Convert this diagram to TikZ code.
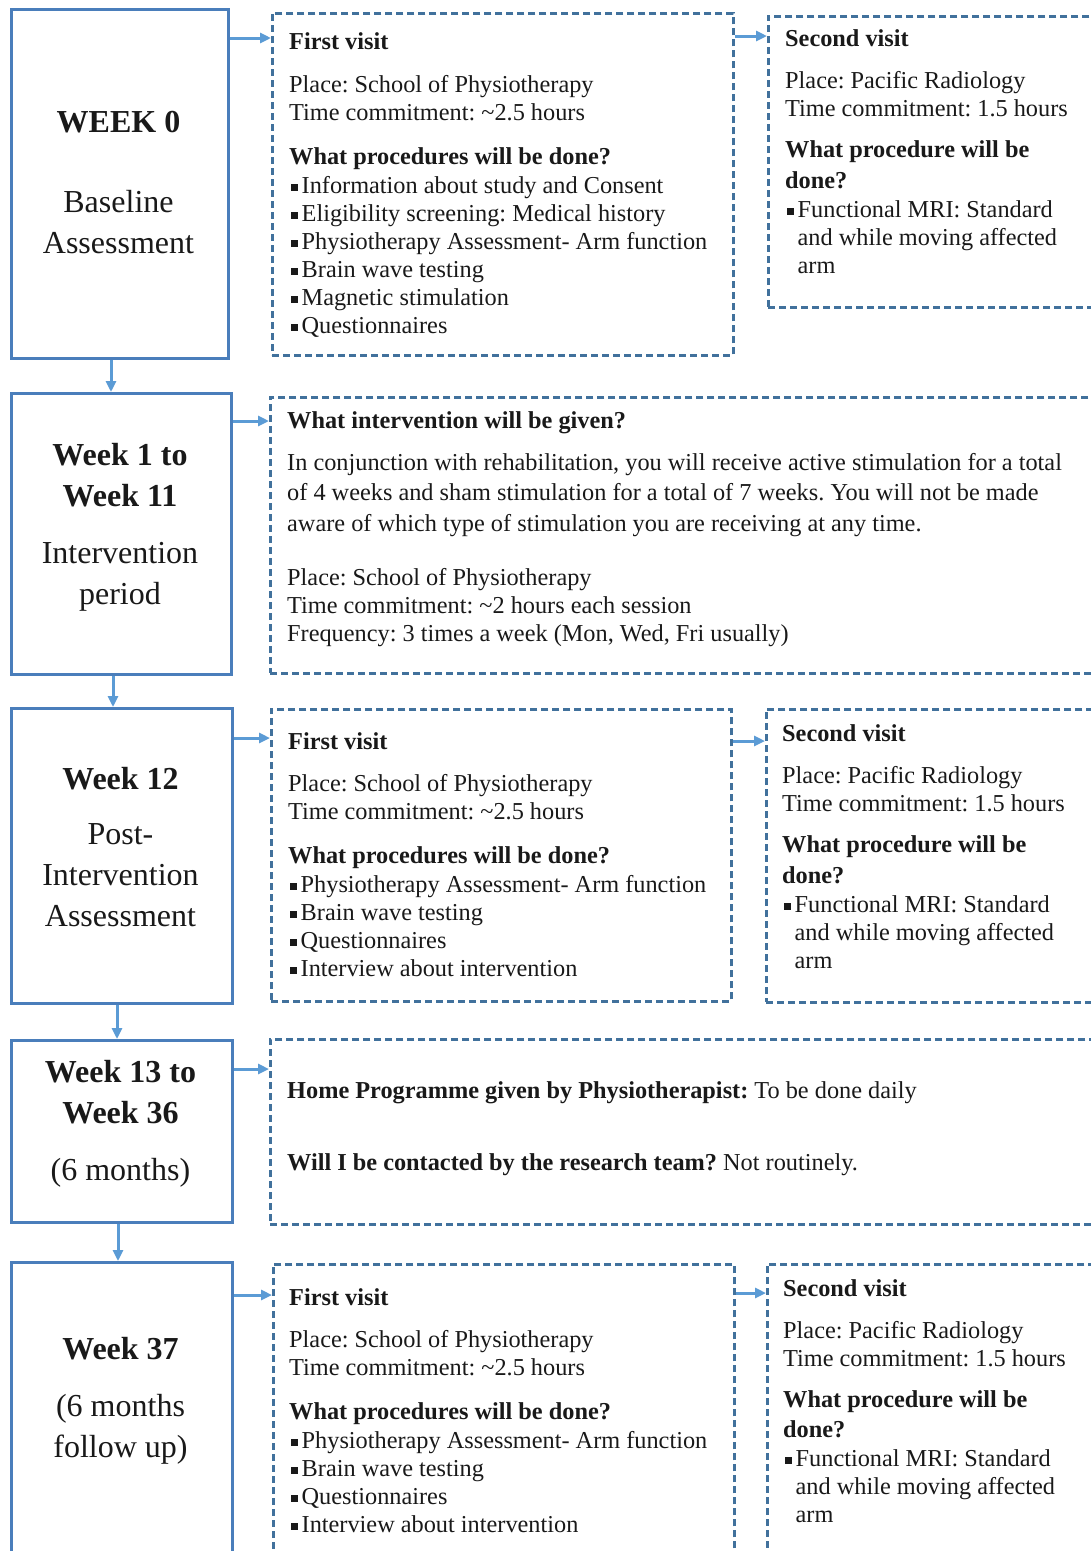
\documentclass[tikz,border=0pt]{standalone}
\usepackage{fontspec}
\setmainfont{Liberation Serif}
\usetikzlibrary{arrows.meta}
\definecolor{boxblue}{RGB}{74,126,187}
\definecolor{arrowblue}{RGB}{91,155,213}
\definecolor{dashblue}{RGB}{65,113,156}
\newcommand{\sq}{\hspace{2pt}\raisebox{2.5pt}{\rule{6.5pt}{6.5pt}}\hspace{4pt}}
\newcommand{\sqgap}{\hspace{12.5pt}}
\frenchspacing

\begin{document}
\begin{tikzpicture}[x=1pt, y=-1pt, >={Triangle[length=11pt,width=10pt]},
  weekbox/.style={draw=boxblue, line width=3pt, anchor=north west, inner sep=0pt},
  visitbox/.style={draw=dashblue, line width=2.5pt, dash pattern=on 7pt off 4pt, anchor=north west, inner sep=0pt},
  weeklabel/.style={align=center, font=\fontsize{32}{41}\selectfont, text=black!90},
  body/.style={align=left, anchor=north west, inner sep=0pt, font=\fontsize{24.3}{28}\selectfont, text=black!90},
  flow/.style={->, draw=arrowblue, line width=3pt}]
  \useasboundingbox (0,0) rectangle (1091,1551);
  \fill[white] (0,0) rectangle (1091,1551);
  \clip (0,0) rectangle (1091,1551);
  % Week boxes
  \node[weekbox, minimum width=217, minimum height=349] (w0) at (10,8) {};
  \node[weekbox, minimum width=220, minimum height=281] (w1) at (10,392) {};
  \node[weekbox, minimum width=221, minimum height=295] (w2) at (10,707) {};
  \node[weekbox, minimum width=221, minimum height=182] (w3) at (10,1039) {};
  \node[weekbox, minimum width=221, minimum height=340] (w4) at (10,1261) {};
  \node[weeklabel] (w0l) at (118.5,182.5) {\textbf{WEEK 0}\\[39pt]Baseline\\Assessment};
  \node[weeklabel] (w1l) at (120,527) {\textbf{Week 1 to}\\\textbf{Week 11}\\[16pt]Intervention\\period};
  \node[weeklabel] (w2l) at (120.5,847.5) {\textbf{Week 12}\\[14pt]Post-\\Intervention\\Assessment};
  \node[weeklabel] (w3l) at (120.5,1124) {\textbf{Week 13 to}\\\textbf{Week 36}\\[16pt](6 months)};
  \node[weeklabel] (w4l) at (120.5,1401) {\textbf{Week 37}\\[16pt](6 months\\follow up)};
  % Visit boxes
  \node[visitbox, minimum width=461, minimum height=342] (v1a) at (271,12) {};
  \node[visitbox, minimum width=345, minimum height=291] (v1b) at (767,15) {};
  \node[visitbox, minimum width=843, minimum height=276] (v2) at (269,396) {};
  \node[visitbox, minimum width=460, minimum height=292] (v3a) at (270,708) {};
  \node[visitbox, minimum width=347, minimum height=293] (v3b) at (765,708) {};
  \node[visitbox, minimum width=843, minimum height=185] (v4) at (269,1038) {};
  \node[visitbox, minimum width=461, minimum height=340] (v5a) at (272,1263) {};
  \node[visitbox, minimum width=346, minimum height=340] (v5b) at (766,1263) {};
  % Texts
  \node[body] (t1a) at (289,32) {\textbf{First visit}\\[15pt]
    Place: School of Physiotherapy\\
    Time commitment: \textasciitilde2.5 hours\\[16pt]
    \textbf{What procedures will be done?}\\[1pt]
    \sq Information about study and Consent\\
    \sq Eligibility screening: Medical history\\
    \sq Physiotherapy Assessment- Arm function\\
    \sq Brain wave testing\\
    \sq Magnetic stimulation\\
    \sq Questionnaires};
  \node[body] (t1b) at (785,29) {\textbf{Second visit}\\[14pt]
    Place: Pacific Radiology\\
    Time commitment: 1.5 hours\\[13pt]
    \textbf{What procedure will be}\\[3pt]
    \textbf{done?}\\[1pt]
    \sq Functional MRI: Standard\\
    \sqgap and while moving affected\\
    \sqgap arm};
  \node[body] (t2) at (287,411) {\textbf{What intervention will be given?}\\[14pt]
    In conjunction with rehabilitation, you will receive active stimulation for a total\\[2.5pt]
    of 4 weeks and sham stimulation for a total of 7 weeks. You will not be made\\[2.5pt]
    aware of which type of stimulation you are receiving at any time.\\[26pt]
    Place: School of Physiotherapy\\
    Time commitment: \textasciitilde2 hours each session\\
    Frequency: 3 times a week (Mon, Wed, Fri usually)};
  \node[body] (t3a) at (288,732) {\textbf{First visit}\\[14pt]
    Place: School of Physiotherapy\\
    Time commitment: \textasciitilde2.5 hours\\[16pt]
    \textbf{What procedures will be done?}\\[1pt]
    \sq Physiotherapy Assessment- Arm function\\
    \sq Brain wave testing\\
    \sq Questionnaires\\
    \sq Interview about intervention};
  \node[body] (t3b) at (782,724) {\textbf{Second visit}\\[14pt]
    Place: Pacific Radiology\\
    Time commitment: 1.5 hours\\[13pt]
    \textbf{What procedure will be}\\[3pt]
    \textbf{done?}\\[1pt]
    \sq Functional MRI: Standard\\
    \sqgap and while moving affected\\
    \sqgap arm};
  \node[body] (t4) at (287,1081) {\textbf{Home Programme given by Physiotherapist:} To be done daily\\[44pt]
    \textbf{Will I be contacted by the research team?} Not routinely.};
  \node[body] (t5a) at (289,1288) {\textbf{First visit}\\[14pt]
    Place: School of Physiotherapy\\
    Time commitment: \textasciitilde2.5 hours\\[16pt]
    \textbf{What procedures will be done?}\\[1pt]
    \sq Physiotherapy Assessment- Arm function\\
    \sq Brain wave testing\\
    \sq Questionnaires\\
    \sq Interview about intervention};
  \node[body] (t5b) at (783,1279) {\textbf{Second visit}\\[14pt]
    Place: Pacific Radiology\\
    Time commitment: 1.5 hours\\[13pt]
    \textbf{What procedure will be}\\[2pt]
    \textbf{done?}\\[1pt]
    \sq Functional MRI: Standard\\
    \sqgap and while moving affected\\
    \sqgap arm};
  % Arrows down
  \draw[flow] (w0.south -| 111,0) -- (w1.north -| 111,0);
  \draw[flow] (w1.south -| 113,0) -- (w2.north -| 113,0);
  \draw[flow] (w2.south -| 117,0) -- (w3.north -| 117,0);
  \draw[flow] (w3.south -| 118,0) -- (w4.north -| 118,0);
  % Arrows across
  \draw[flow] (w0.east |- 0,38) -- (v1a.west |- 0,38);
  \draw[flow] (v1a.east |- 0,36) -- (v1b.west |- 0,36);
  \draw[flow] (w1.east |- 0,421) -- (v2.west |- 0,421);
  \draw[flow] (w2.east |- 0,738) -- (v3a.west |- 0,738);
  \draw[flow] (v3a.east |- 0,741) -- (v3b.west |- 0,741);
  \draw[flow] (w3.east |- 0,1069) -- (v4.west |- 0,1069);
  \draw[flow] (w4.east |- 0,1295) -- (v5a.west |- 0,1295);
  \draw[flow] (v5a.east |- 0,1293) -- (v5b.west |- 0,1293);
\end{tikzpicture}
\end{document}
